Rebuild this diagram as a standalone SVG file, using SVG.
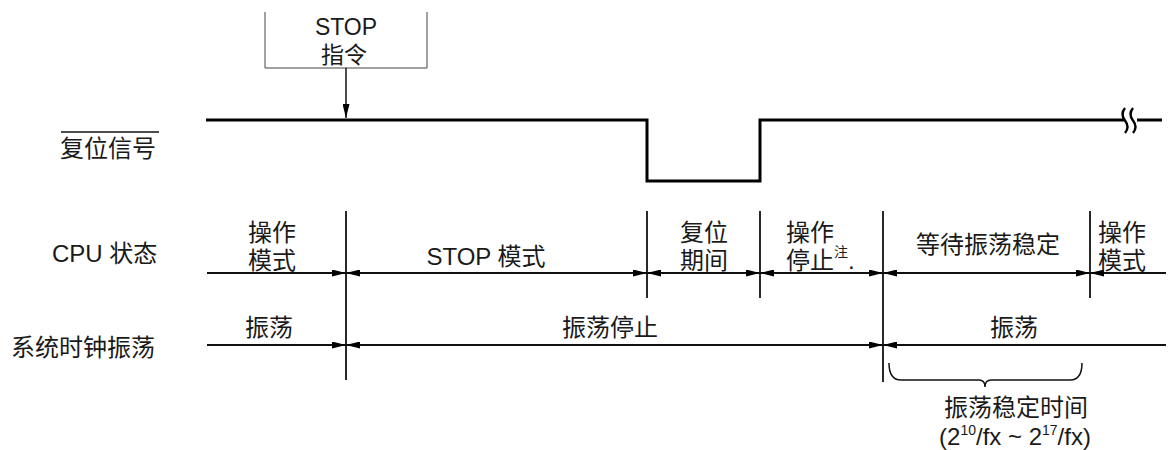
<svg xmlns="http://www.w3.org/2000/svg" width="1168" height="450" viewBox="0 0 1168 450">
<style>
text{font-family:"Liberation Sans","Noto Sans CJK SC",sans-serif;font-size:24px;fill:#1a1a1a}
.m{text-anchor:middle}
.sup{font-size:14px}
.dim{stroke:#111;stroke-width:2;fill:none}
.v{stroke:#111;stroke-width:1.8;fill:none}
.sig{stroke:#000;stroke-width:3;fill:none}
</style>
<defs>
<marker id="ah" viewBox="0 0 14 7" refX="14" refY="3.5" markerWidth="14" markerHeight="7" markerUnits="userSpaceOnUse" orient="auto-start-reverse">
<path d="M0,0 L14,3.5 L0,7 z" fill="#000"/>
</marker>
</defs>

<g id="row-labels">
<line x1="61" y1="132" x2="159" y2="132" stroke="#111" stroke-width="1.5"/>
<text x="60" y="157">复位信号</text>
<text x="52" y="262">CPU 状态</text>
<text x="11" y="356">系统时钟振荡</text>
</g>

<g id="stop-box">
<path d="M265,12 V68 H427 V12" fill="none" stroke="#444" stroke-width="1"/>
<text class="m" x="346" y="35" style="font-size:23px">STOP</text>
<text class="m" x="344" y="63" style="font-size:23px">指令</text>
</g>

<g id="reset-signal">
<path class="sig" d="M206,120 H647 V181 H760 V120 H1124"/>
<path class="sig" d="M1137,120 H1162"/>
<path d="M1125,108 q-5,6 0,12.5 q5,6.5 0,12.5 M1133,108 q-5,6 0,12.5 q5,6.5 0,12.5" fill="none" stroke="#000" stroke-width="2.4"/>
</g>

<g id="connectors">
<line x1="346" y1="68" x2="346" y2="118" stroke="#111" stroke-width="1.5" marker-end="url(#ah)"/>
<line class="v" x1="346" y1="211" x2="346" y2="380"/>
<line class="v" x1="647" y1="211" x2="647" y2="298"/>
<line class="v" x1="760" y1="211" x2="760" y2="298"/>
<line class="v" x1="883" y1="211" x2="883" y2="382"/>
<line class="v" x1="1090" y1="211" x2="1090" y2="298"/>
<line class="dim" x1="207" y1="273" x2="346" y2="273" marker-end="url(#ah)"/>
<line class="dim" x1="346" y1="273" x2="647" y2="273" marker-start="url(#ah)" marker-end="url(#ah)"/>
<line class="dim" x1="647" y1="273" x2="760" y2="273" marker-start="url(#ah)" marker-end="url(#ah)"/>
<line class="dim" x1="760" y1="273" x2="883" y2="273" marker-start="url(#ah)" marker-end="url(#ah)"/>
<line class="dim" x1="883" y1="273" x2="1090" y2="273" marker-start="url(#ah)" marker-end="url(#ah)"/>
<line class="dim" x1="1090" y1="273" x2="1166" y2="273" marker-start="url(#ah)"/>
<line class="dim" x1="207" y1="345" x2="346" y2="345" marker-end="url(#ah)"/>
<line class="dim" x1="346" y1="345" x2="883" y2="345" marker-start="url(#ah)" marker-end="url(#ah)"/>
<line class="dim" x1="883" y1="345" x2="1166" y2="345" marker-start="url(#ah)"/>
<path d="M889,363 q0,17 12,17 H979 q6,0 6,7 q0,-7 6,-7 H1070 q12,0 12,-17" fill="none" stroke="#111" stroke-width="1.5"/>
</g>

<g id="cpu-states">
<text class="m" x="272" y="241">操作</text>
<text class="m" x="272" y="269">模式</text>
<text class="m" x="486" y="265">STOP 模式</text>
<text class="m" x="704" y="241">复位</text>
<text class="m" x="704" y="269">期间</text>
<text class="m" x="810" y="241">操作</text>
<text x="786" y="269">停止<tspan class="sup" dy="-12">注</tspan><tspan dy="12">.</tspan></text>
<text class="m" x="988" y="253">等待振荡稳定</text>
<text class="m" x="1122" y="241">操作</text>
<text class="m" x="1122" y="269">模式</text>
</g>

<g id="clock-states">
<text class="m" x="269" y="336">振荡</text>
<text class="m" x="610" y="336">振荡停止</text>
<text class="m" x="1014" y="336">振荡</text>
</g>

<g id="stabilization">
<text class="m" x="1016" y="416">振荡稳定时间</text>
<text class="m" x="1015" y="445">(2<tspan class="sup" dy="-10">10</tspan><tspan dy="10">/fx ~ 2</tspan><tspan class="sup" dy="-10">17</tspan><tspan dy="10">/fx)</tspan></text>
</g>
</svg>
